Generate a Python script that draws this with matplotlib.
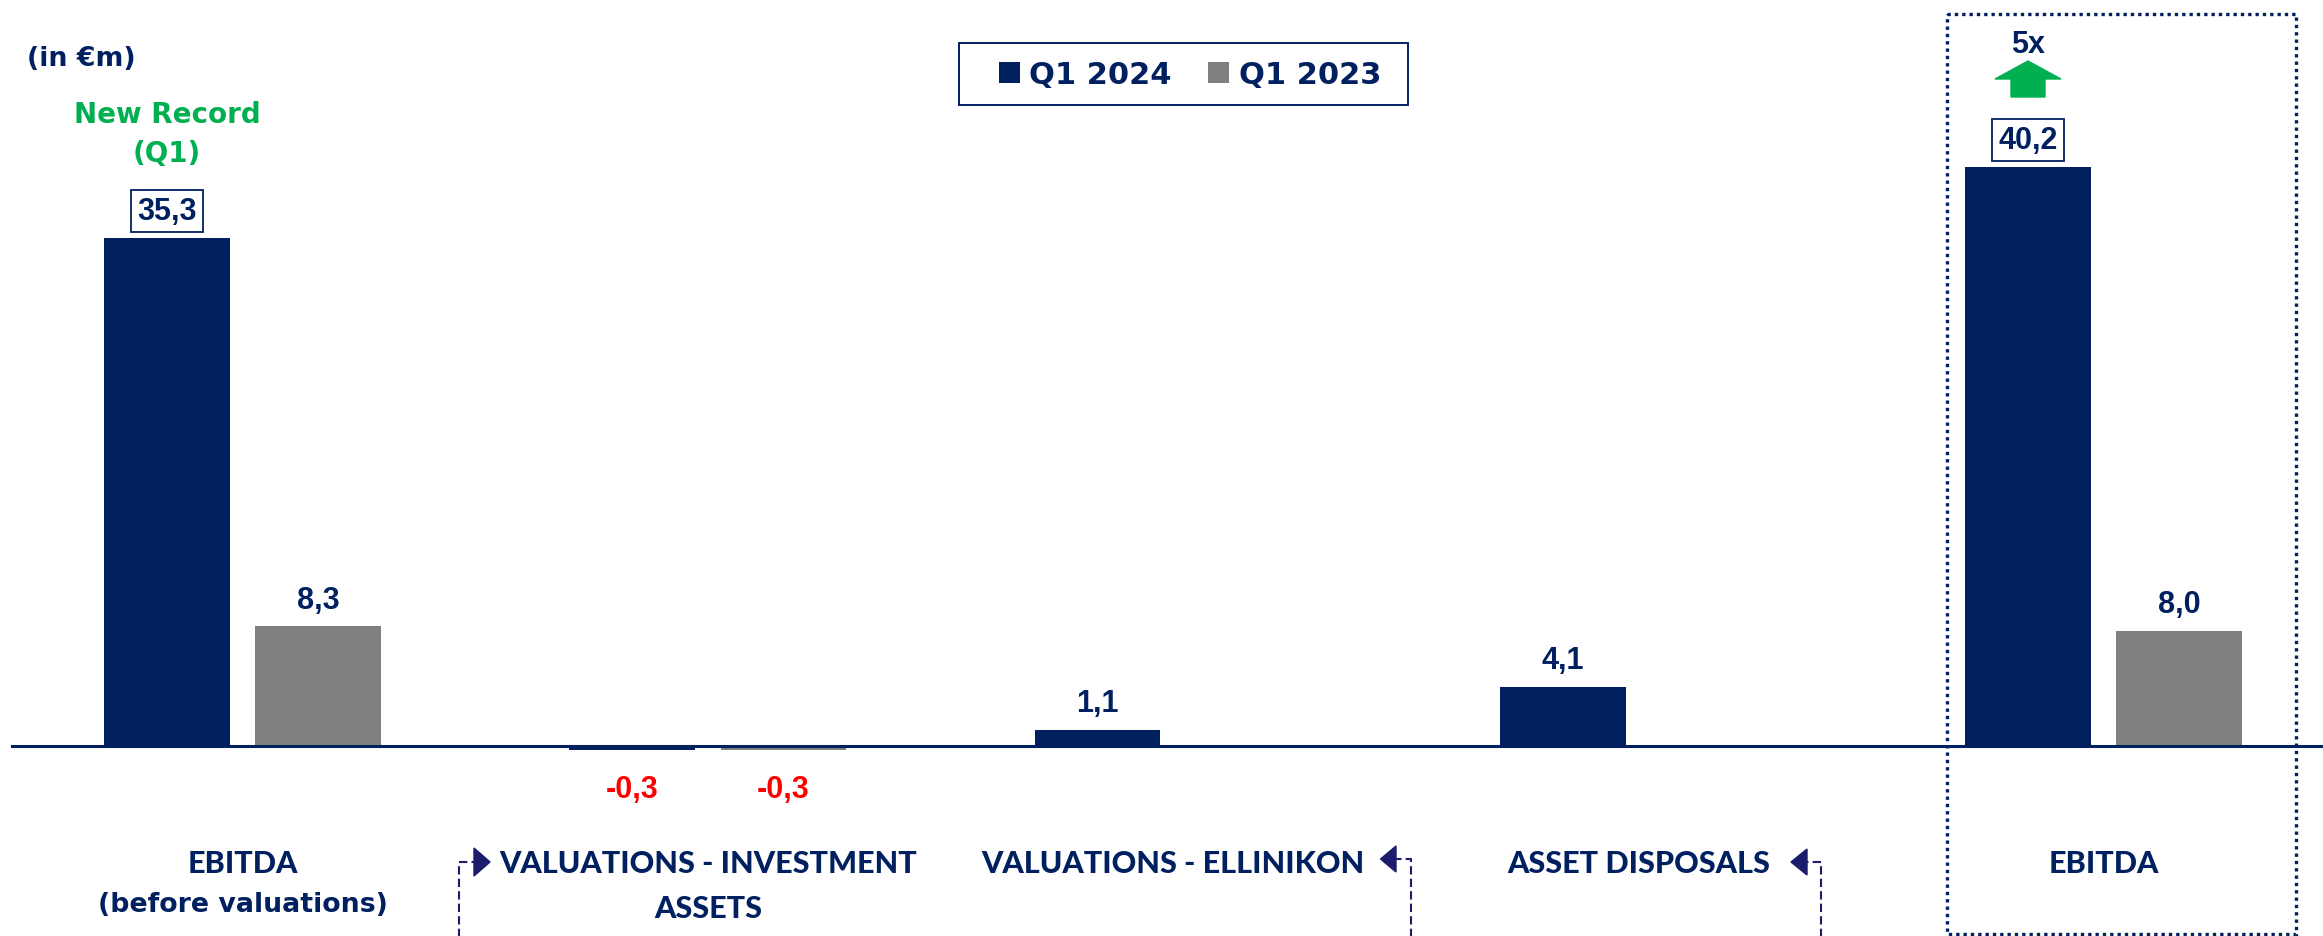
import matplotlib.pyplot as plt
from matplotlib.patches import Polygon, Rectangle
import numpy as np

# data
categories = ["EBITDA\n(before valuations)", "VALUATIONS - INVESTMENT\nASSETS",
              "VALUATIONS - ELLINIKON", "ASSET DISPOSALS", "EBITDA"]
series_names = ["Q1 2024", "Q1 2023"]
q1_2024 = [35.3, -0.3, 1.1, 4.1, 40.2]
q1_2023 = [8.3, -0.3, np.nan, np.nan, 8.0]
boxed_labels = [0, 4]  # Q1 2024 labels drawn inside a frame

navy = "#002060"
grey = "#808080"
green = "#00B050"
red = "#FF0000"
arrow_navy = "#1C1C6C"

caps_font = ["Lato", "DejaVu Sans"]
num_font = ["Liberation Sans", "DejaVu Sans"]

W, H = 2323, 937
plt.rcParams['font.family'] = ['DejaVu Sans']
plt.rcParams['font.weight'] = 'bold'

fig = plt.figure(figsize=(W / 100, H / 100), dpi=100)
ax = fig.add_axes([0, 0, 1, 1])

# layout in pixels: first group centre, group step, baseline and px per unit
c0, step = 242.5, 465.3
base_px, px_unit = 747, 14.4
ax.set_xlim(-c0 / step, (W - c0) / step)
ax.set_ylim(-(H - base_px) / px_unit, base_px / px_unit)
ax.axis('off')


def yf(py):
    # pixel from top -> axes fraction
    return 1 - py / H


x = np.arange(len(categories))
off, bw = 0.1625, 0.27
b1 = ax.bar(x - off, q1_2024, bw, color=navy, zorder=2)
b2 = ax.bar(x + off, q1_2023, bw, color=grey, zorder=2)
ax.axhline(0, xmin=12 / W, xmax=1, color=navy, lw=2.2, zorder=3)


def fmt(v):
    return f"{v:.1f}".replace(".", ",")


for xs, vals, boxed in [(x - off, q1_2024, boxed_labels), (x + off, q1_2023, [])]:
    for i, (xx, v) in enumerate(zip(xs, vals)):
        if np.isnan(v):
            continue
        if v < 0:
            ax.annotate(fmt(v), (xx, v), xytext=(0, -33.4), textcoords="offset points",
                        ha="center", va="baseline", fontsize=22, color=red, family=num_font)
        else:
            bbox = None
            if i in boxed:
                bbox = dict(boxstyle="square,pad=0.2", fc="white", ec=navy, lw=1.3)
            ax.annotate(fmt(v), (xx, v), xytext=(0, 13.5), textcoords="offset points",
                        ha="center", va="baseline", fontsize=22, color=navy,
                        family=num_font, bbox=bbox)

# category labels, one text per line
for i, cat in enumerate(categories):
    lines = cat.split("\n")
    for j, line in enumerate(lines):
        if line.isupper():
            ax.text(i, yf(873 + 45 * j), line, transform=ax.get_xaxis_transform(),
                    ha="center", va="baseline", fontsize=22, color=navy, family=caps_font,
                    weight=900)
        else:
            ax.text(i, yf(912), line, transform=ax.get_xaxis_transform(),
                    ha="center", va="baseline", fontsize=19.3, color=navy)

# texts at the top
ax.text(27 / W, yf(66), "(in €m)", transform=ax.transAxes, ha="left", va="baseline",
        fontsize=19.3, color=navy)
ax.text(x[0] - off, yf(123), "New Record", transform=ax.get_xaxis_transform(),
        ha="center", va="baseline", fontsize=20, color=green)
ax.text(x[0] - off, yf(162), "(Q1)", transform=ax.get_xaxis_transform(),
        ha="center", va="baseline", fontsize=20, color=green)

leg = ax.legend([b1, b2], series_names, loc="center", bbox_to_anchor=(1190 / W, yf(76)),
                bbox_transform=fig.transFigure, ncol=2, frameon=False,
                handlelength=0.69, handleheight=0.69, handletextpad=0.3,
                columnspacing=1.2, borderpad=0.3,
                prop=dict(size=22, weight="bold"), labelcolor=navy)

# overlay in pixel coordinates for the decorations
ov = fig.add_axes([0, 0, 1, 1], facecolor="none")
ov.set_xlim(0, W)
ov.set_ylim(H, 0)
ov.axis("off")

# legend frame
ov.add_patch(Rectangle((959, 44), 449, 62, fill=False, ec=navy, lw=1.4))

# dotted frame around the final EBITDA
ov.add_patch(Rectangle((1946.5, 15), 349.5, 920, fill=False, ec=navy, lw=2.4,
                       linestyle=(0, (1, 1.2))))

# connector arrows between the bridge items
dash = (0, (4, 2))
ov.plot([458.6, 458.6, 474], [H + 5, 863, 863], ls=dash, lw=1.5, color=arrow_navy)
ov.add_patch(Polygon([(474, 849), (490, 863), (474, 877)], color=arrow_navy))
ov.plot([1410.7, 1410.7, 1396], [H + 5, 860, 860], ls=dash, lw=1.5, color=arrow_navy)
ov.add_patch(Polygon([(1396, 847), (1380.5, 860), (1396, 873)], color=arrow_navy))
ov.plot([1820.7, 1820.7, 1807], [H + 5, 863, 863], ls=dash, lw=1.5, color=arrow_navy)
ov.add_patch(Polygon([(1807, 850), (1791, 863), (1807, 876)], color=arrow_navy))

# growth arrow over the final EBITDA
ov.add_patch(Polygon([(2028, 62), (2061, 80), (2045, 80), (2045, 98), (2011, 98),
                      (2011, 80), (1995, 80)], color=green))
ov.text(2028, 53, "5x", ha="center", va="baseline", fontsize=22, color=navy,
        family=num_font)

fig.savefig("out.png", dpi=100)
